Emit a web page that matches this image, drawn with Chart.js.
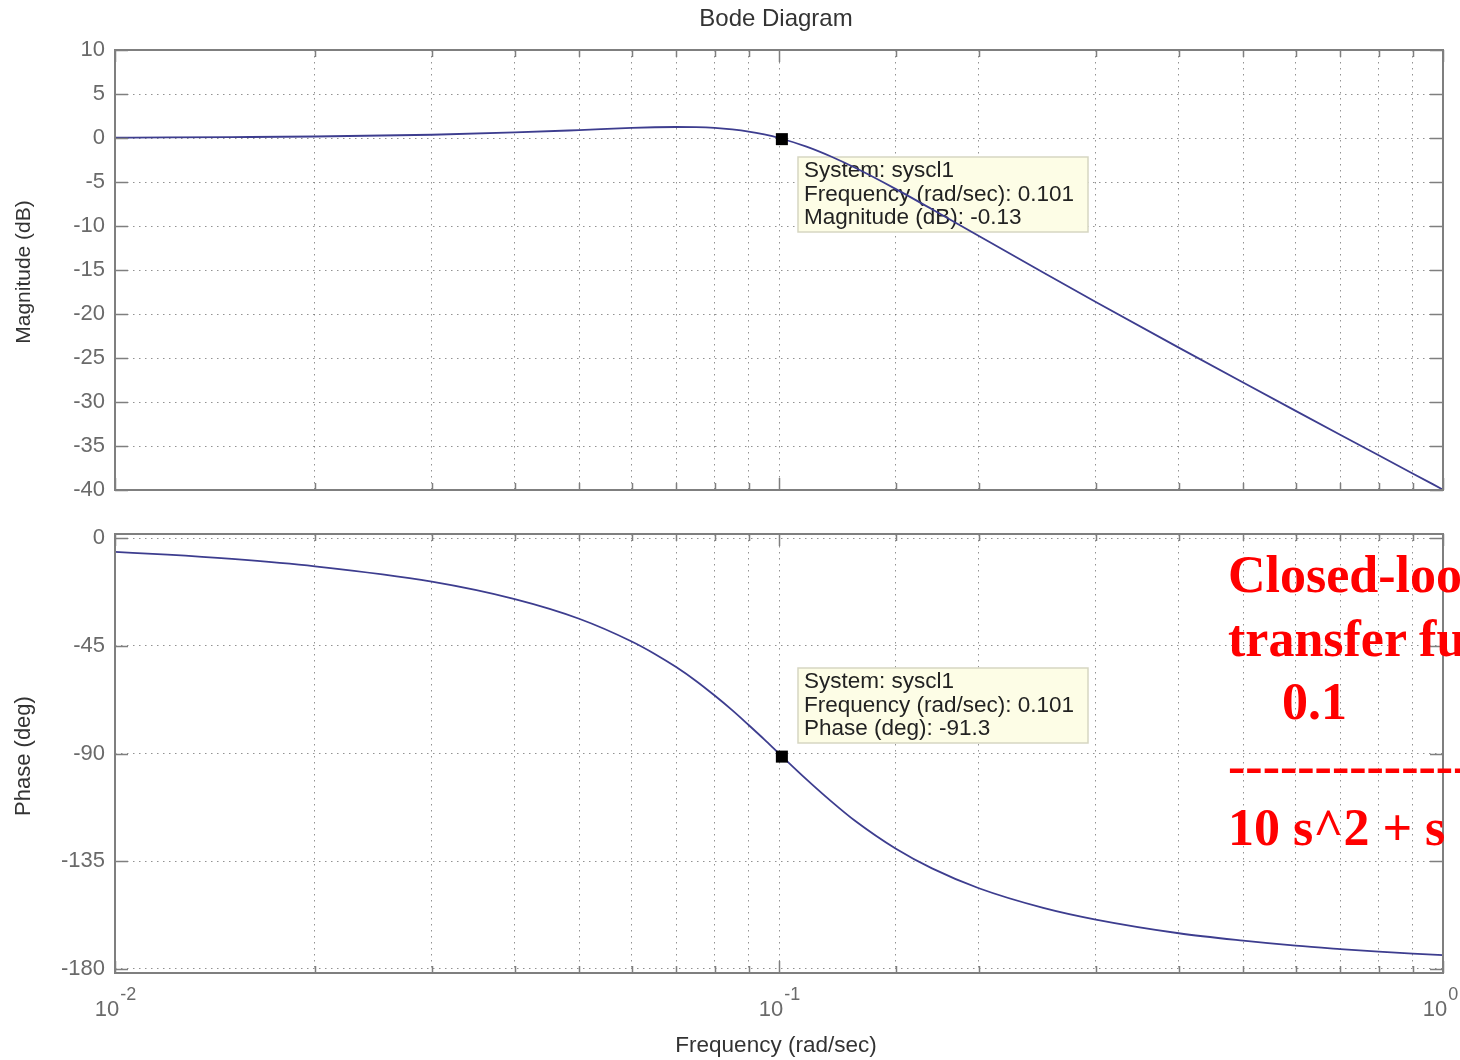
<!DOCTYPE html>
<html>
<head>
<meta charset="utf-8">
<script src="https://cdn.jsdelivr.net/npm/chart.js@4/dist/chart.umd.min.js"></script>
<style>
  html, body { margin: 0; padding: 0; background: #fff; }
  body { width: 1460px; height: 1060px; position: relative; overflow: hidden; font-family: "Liberation Sans", Arial, sans-serif; }
  canvas { position: absolute; left: 0; }
  #magChart { top: 0; }
  #phaseChart { top: 520px; }
  .lbl { position: absolute; color: #333; white-space: nowrap; }
  .ylbl { transform: translate(-50%, -50%) rotate(-90deg); }
  .note { position: absolute; left: 1228px; color: #ff0000; font: bold 52px "Liberation Serif", "Times New Roman", serif; line-height: 52px; white-space: nowrap; }
</style>
</head>
<body>
<canvas id="magChart" width="1460" height="520"></canvas>
<canvas id="phaseChart" width="1460" height="540"></canvas>

<div class="lbl" style="left:776px; top:4px; font-size:24px; transform:translateX(-50%);">Bode Diagram</div>
<div class="lbl ylbl" style="left:23px; top:272px; font-size:21px;">Magnitude (dB)</div>
<div class="lbl ylbl" style="left:23px; top:756px; font-size:22px;">Phase (deg)</div>
<div class="lbl" style="left:776px; top:1032px; font-size:22.5px; transform:translateX(-50%);">Frequency (rad/sec)</div>

<div class="note" style="top:549px;">Closed-loop</div>
<div class="note" style="top:613px;">transfer function</div>
<div class="note" style="top:676px; left:1282px;">0.1</div>
<div class="note" style="top:740px;">------------------</div>
<div class="note" style="top:802px;">10 s^2 + s + 0.1</div>

<script>
// frequency (rad/sec) and the response
var freq = [0.01, 0.012, 0.015, 0.02, 0.03, 0.04, 0.05, 0.06, 0.065, 0.07, 0.075, 0.08, 0.085, 0.09, 0.095, 0.1,
            0.11, 0.12, 0.13, 0.15, 0.17, 0.2, 0.25, 0.3, 0.4, 0.5, 0.6, 0.7, 0.8, 0.9, 1.0];
var magDb = [0.04, 0.06, 0.10, 0.17, 0.37, 0.63, 0.90, 1.14, 1.22, 1.25, 1.23, 1.14, 0.97, 0.73, 0.40, 0.0,
             -0.98, -2.13, -3.36, -5.81, -8.10, -11.14, -15.29, -18.63, -23.82, -27.79, -31.01, -33.72, -36.06, -38.12, -39.96];
var phaseDeg = [-5.8, -6.9, -8.7, -11.8, -18.2, -25.5, -33.7, -43.2, -48.4, -53.9, -59.7, -65.8, -71.9, -78.1, -84.1, -90.0,
                -100.8, -110.1, -118.0, -129.8, -138.0, -146.3, -154.5, -159.4, -165.1, -168.2, -170.3, -171.7, -172.8, -173.6, -174.2];

// data tips
var tipFreq = 0.101;
var tipMag = -0.13;
var tipPhase = -91.3;
var tipSystem = 'syscl1';

// axis ticks
var magTicks = [10, 5, 0, -5, -10, -15, -20, -25, -30, -35, -40];
var phaseTicks = [0, -45, -90, -135, -180];
var majorFreq = [0.01, 0.1, 1];
var freqExponents = ['-2', '-1', '0'];

var lineColor = '#3d3d8f';
var gridColor = 'rgba(110,110,110,0.75)';
var boxColor = '#7f7f7f';
var font = '"Liberation Sans", Arial, sans-serif';

Chart.defaults.font.family = font;

function isMajor(v) {
    return majorFreq.some(function (m) { return Math.abs(m - v) / m < 1e-6; });
}

function pts(ys) {
    return freq.map(function (f, i) { return {x: f, y: ys[i]}; });
}

// box round the plot plus the small inward tick marks
var frame = {
    id: 'frame',
    afterDraw: function (chart) {
        var ctx = chart.ctx, a = chart.chartArea, x = chart.scales.x, y = chart.scales.y;
        ctx.save();
        ctx.strokeStyle = boxColor;
        ctx.lineWidth = 1.5;
        ctx.beginPath();
        x.ticks.forEach(function (t) {
            var px = Math.round(x.getPixelForValue(t.value)) + 0.5;
            var len = isMajor(t.value) ? 12 : 7;
            ctx.moveTo(px, a.bottom); ctx.lineTo(px, a.bottom - len);
            ctx.moveTo(px, a.top); ctx.lineTo(px, a.top + len);
        });
        y.ticks.forEach(function (t) {
            var py = Math.round(y.getPixelForValue(t.value)) + 0.5;
            ctx.moveTo(a.left, py); ctx.lineTo(a.left + 13, py);
            ctx.moveTo(a.right, py); ctx.lineTo(a.right - 13, py);
        });
        ctx.stroke();
        ctx.lineWidth = 2;
        ctx.strokeRect(a.left, a.top, a.right - a.left, a.bottom - a.top);
        ctx.restore();
    }
};

// data tip box, drawn under the curve
function dataTip(lines, dx, dy) {
    return {
        id: 'dataTip',
        beforeDatasetsDraw: function (chart) {
            var ctx = chart.ctx;
            var p = chart.getDatasetMeta(0).data[0];
            var bx = Math.round(p.x + dx), by = Math.round(p.y + dy);
            ctx.save();
            ctx.fillStyle = '#fdfde6';
            ctx.strokeStyle = '#d6d6c2';
            ctx.lineWidth = 1.5;
            ctx.fillRect(bx, by, 290, 75);
            ctx.strokeRect(bx, by, 290, 75);
            ctx.fillStyle = '#222';
            ctx.font = '22.5px ' + font;
            ctx.textBaseline = 'middle';
            lines.forEach(function (s, i) {
                ctx.fillText(s, bx + 6, by + 14 + i * 23.5);
            });
            ctx.restore();
        }
    };
}

// superscript exponents next to the "10" labels
var exponents = {
    id: 'exponents',
    afterDraw: function (chart) {
        var ctx = chart.ctx, x = chart.scales.x;
        ctx.save();
        ctx.font = '22px ' + font;
        var w = ctx.measureText('10').width;
        ctx.font = '18px ' + font;
        ctx.fillStyle = '#6a6a6a';
        ctx.textBaseline = 'alphabetic';
        majorFreq.forEach(function (f, i) {
            var px = x.getPixelForValue(f) - 8;
            ctx.fillText(freqExponents[i], px + w / 2 + 1, 480);
        });
        ctx.restore();
    }
};

function xScale(showLabels) {
    return {
        type: 'logarithmic',
        min: 0.01,
        max: 1,
        grid: { color: gridColor, lineWidth: 1, drawTicks: false },
        border: { display: false, dash: [1.5, 4.5] },
        ticks: {
            display: showLabels,
            autoSkip: false,
            maxRotation: 0,
            padding: 24,
            labelOffset: -8,
            color: '#6a6a6a',
            font: { size: 22 },
            callback: function (v) { return isMajor(v) ? '10' : ''; }
        },
        afterFit: function (s) {
            s.height = showLabels ? 87 : 0;
            s.paddingLeft = 0;
            s.paddingRight = 0;
        }
    };
}

function yScale(min, max, tickValues) {
    return {
        min: min,
        max: max,
        grid: { color: gridColor, lineWidth: 1, drawTicks: false },
        border: { display: false, dash: [1.5, 4.5] },
        ticks: { padding: 10, color: '#6a6a6a', font: { size: 22 } },
        afterBuildTicks: function (s) { s.ticks = tickValues.map(function (v) { return {value: v}; }); },
        afterFit: function (s) {
            s.width = 115;
            s.paddingTop = 0;
            s.paddingBottom = 0;
        }
    };
}

function markerSet(v) {
    return {
        data: [{x: tipFreq, y: v}],
        showLine: false,
        pointStyle: 'rect',
        pointRadius: 8.5,
        pointBackgroundColor: '#000',
        pointBorderWidth: 0
    };
}

function curveSet(ys) {
    return {
        data: pts(ys),
        borderColor: lineColor,
        borderWidth: 1.8,
        pointRadius: 0,
        cubicInterpolationMode: 'monotone',
        fill: false
    };
}

var common = {
    responsive: false,
    animation: false,
    plugins: { legend: { display: false }, tooltip: { enabled: false } }
};

new Chart(document.getElementById('magChart'), {
    type: 'line',
    data: { datasets: [markerSet(tipMag), curveSet(magDb)] },
    options: Object.assign({}, common, {
        layout: { padding: { top: 50, right: 17, bottom: 30, left: 0 } },
        scales: { x: xScale(false), y: yScale(-40, 10, magTicks) }
    }),
    plugins: [frame, dataTip(['System: ' + tipSystem, 'Frequency (rad/sec): ' + tipFreq, 'Magnitude (dB): ' + tipMag], 16, 18)]
});

new Chart(document.getElementById('phaseChart'), {
    type: 'line',
    data: { datasets: [markerSet(tipPhase), curveSet(phaseDeg)] },
    options: Object.assign({}, common, {
        layout: { padding: { top: 14, right: 17, bottom: 0, left: 0 } },
        scales: { x: xScale(true), y: yScale(-181.7, 1.7, phaseTicks) }
    }),
    plugins: [frame, exponents, dataTip(['System: ' + tipSystem, 'Frequency (rad/sec): ' + tipFreq, 'Phase (deg): ' + tipPhase], 16, -89)]
});
</script>
</body>
</html>
